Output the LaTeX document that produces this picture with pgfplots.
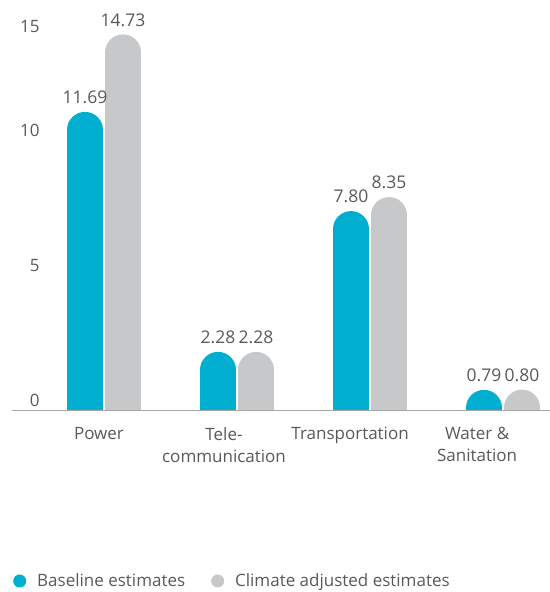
\documentclass[border=0pt]{standalone}
\usepackage{fontspec}
\setmainfont{Open Sans}
\usepackage{pgfplots}
\pgfplotsset{compat=1.18}
\definecolor{tealc}{HTML}{00AFD0}
\definecolor{grayc}{HTML}{C7C8CA}
\definecolor{txt}{HTML}{595959}
\definecolor{axc}{HTML}{A6A6A6}
\newcommand{\chfont}{\fontsize{17bp}{22bp}\selectfont}
\newcommand{\valfont}{\fontsize{17.5bp}{22bp}\selectfont}
\newcommand{\rb}[2]{\raisebox{#1}[\height][\depth]{#2}}
\begin{document}
\begin{tikzpicture}
\useasboundingbox (0,0) rectangle (550bp,592bp);
\begin{axis}[
  at={(12bp,182bp)}, anchor=south west,
  scale only axis, width=538bp, height=408bp,
  xmin=-0.692, xmax=3.353, ymin=0, ymax=16,
  axis x line*=bottom, axis y line*=left,
  y axis line style={draw=none},
  x axis line style={draw=axc, line width=1bp},
  tick style={draw=none},
  ytick={0,5,10,15},
  yticklabels={\rb{-2bp}{0},\rb{5bp}{5},\rb{13bp}{10},\rb{-11bp}{15}},
  xtick={-0.038,0.902,1.85,2.805},
  xticklabels={Power, Tele-\\communication, Transportation, Water \&\\Sanitation},
  /pgf/number format/assume math mode=true,
  ticklabel style={text=txt, font=\chfont},
  yticklabel style={anchor=east, xshift=31bp, yshift=12bp},
  xticklabel style={align=center, anchor=north, yshift=-14bp},
  y filter/.expression={y-0.706},
  point meta=rawy,
  nodes near coords={\pgfmathprintnumber[fixed,fixed zerofill,precision=2]{\pgfplotspointmeta}},
  nodes near coords style={anchor=south, inner sep=0pt, yshift=8bp, text=txt, font=\valfont},
  legend columns=2,
  legend style={at={(0.0019,-0.4191)}, anchor=west, draw=none, fill=none, inner sep=0pt,
    font=\chfont, text=txt,
    /tikz/every odd column/.append style={column sep=9bp},
    /tikz/every even column/.append style={column sep=24bp}},
]
\addplot[ycomb, draw=tealc, line width=36bp, line cap=round,
  legend image code/.code={\path[fill=tealc, draw=none] (6.5bp,0bp) circle[radius=6.5bp];}]
  coordinates {(-0.143,11.69) (0.857,2.28) (1.857,7.80) (2.857,0.79)};
\addlegendentry{Baseline estimates}
\addplot[ycomb, draw=grayc, line width=36bp, line cap=round,
  legend image code/.code={\path[fill=grayc, draw=none] (6.5bp,0bp) circle[radius=6.5bp];}]
  coordinates {(0.143,14.73) (1.143,2.28) (2.143,8.35) (3.143,0.80)};
\addlegendentry{Climate adjusted estimates}
\end{axis}
\end{tikzpicture}
\end{document}
